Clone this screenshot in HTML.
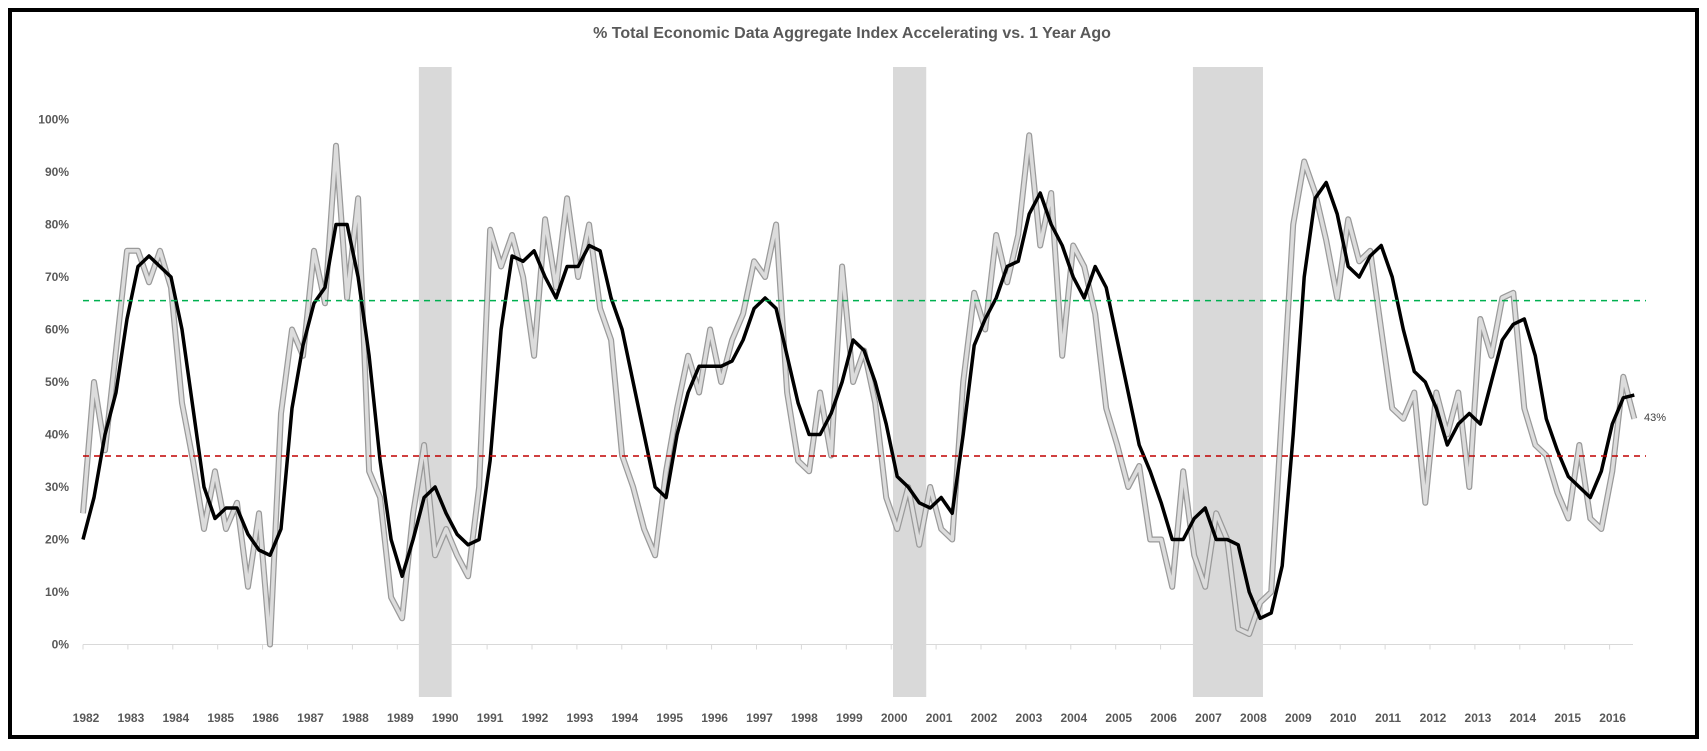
<!DOCTYPE html>
<html><head><meta charset="utf-8"><style>
body{margin:0;background:#fff;}
svg{display:block;font-family:"Liberation Sans",sans-serif;}
</style></head><body>
<svg id="chart" width="1707" height="751">
<rect x="10" y="10" width="1687" height="727" fill="#fff" stroke="#000" stroke-width="4"/>
<text x="852" y="38" text-anchor="middle" font-size="16" font-weight="bold" fill="#595959">% Total Economic Data Aggregate Index Accelerating vs. 1 Year Ago</text>
<g id="bands"></g><g id="axes"></g><g id="series"></g><g id="refs"></g>
<text x="1644" y="421" font-size="11" fill="#404040">43%</text>
</svg>
<script>
const yTicks=[0,10,20,30,40,50,60,70,80,90,100];
const years=[];for(let y=1982;y<=2016;y++)years.push(y);
const recessions=[[1989.48,1990.21],[2000.04,2000.78],[2006.72,2008.28]];
const greenLevel=65.5, redLevel=35.9;
const smoothed=[20,28,40,48,62,72,74,72,70,60,45,30,24,26,26,21,18,17,22,45,57,65,68,80,80,70,55,35,20,13,20,28,30,25,21,19,20,35,60,74,73,75,70,66,72,72,76,75,66,60,50,40,30,28,40,48,53,53,53,54,58,64,66,64,55,46,40,40,44,50,58,56,50,42,32,30,27,26,28,25,40,57,62,66,72,73,82,86,80,76,70,66,72,68,58,48,38,33,27,20,20,24,26,20,20,19,10,5,6,15,40,70,85,88,82,72,70,74,76,70,60,52,50,45,38,42,44,42,50,58,61,62,55,43,37,32,30,28,33,42,47,47.5];
const raw=[25,50,37,56,75,75,69,75,68,46,35,22,33,22,27,11,25,0,44,60,55,75,65,95,66,85,33,28,9,5,25,38,17,22,17,13,30,79,72,78,70,55,81,68,85,70,80,64,58,36,30,22,17,33,45,55,48,60,50,58,63,73,70,80,48,35,33,48,36,72,50,56,46,28,22,30,19,30,22,20,50,67,60,78,69,78,97,76,86,55,76,72,63,45,38,30,34,20,20,11,33,17,11,25,20,3,2,8,10,45,80,92,86,77,66,81,73,75,60,45,43,48,27,48,40,48,30,62,55,66,67,45,38,36,29,24,38,24,22,33,51,43];
const T0=1982,T1=2016.55;
const x=t=>83+(t-1982)*44.9;
const y=v=>644.5-v*5.25;
const NS='http://www.w3.org/2000/svg';
function mk(tag,attrs,parent){const e=document.createElementNS(NS,tag);for(const k in attrs)e.setAttribute(k,attrs[k]);parent.appendChild(e);return e;}
const bands=document.getElementById('bands'),axes=document.getElementById('axes'),series=document.getElementById('series'),refs=document.getElementById('refs');
recessions.forEach(r=>{const e=mk('rect',{x:x(r[0]),y:67,width:x(r[1])-x(r[0]),height:630,fill:'#d9d9d9'},bands);

});
yTicks.forEach(v=>{const e=mk('text',{x:69,y:y(v)+4,'text-anchor':'end','font-size':12,'font-weight':'bold',fill:'#595959'},axes);e.textContent=v+'%';

});
const ax=mk('line',{x1:83,y1:y(0),x2:1633,y2:y(0),stroke:'#d9d9d9','stroke-width':1},axes);


years.forEach(yr=>{const tk=mk('line',{x1:x(yr),y1:y(0),x2:x(yr),y2:y(0)+5,stroke:'#d9d9d9'},axes);


const e=mk('text',{x:x(yr)+3,y:722,'text-anchor':'middle','font-size':12,'font-weight':'bold',fill:'#595959'},axes);e.textContent=yr;

});
function pts(arr){const n=arr.length;return arr.map((v,i)=>x(T0+(T1-T0)*i/(n-1)).toFixed(1)+','+y(v).toFixed(1)).join(' ');}
const g1=mk('polyline',{points:pts(raw),fill:'none',stroke:'#9a9a9a','stroke-width':6,'stroke-linejoin':'round'},series);


const g2=mk('polyline',{points:pts(raw),fill:'none',stroke:'#dcdcdc','stroke-width':3.5,'stroke-linejoin':'round'},series);


const b=mk('polyline',{points:pts(smoothed),fill:'none',stroke:'#000','stroke-width':3.5,'stroke-linejoin':'round'},series);


const gl=mk('line',{x1:83,x2:1646,y1:y(greenLevel),y2:y(greenLevel),stroke:'#00b050','stroke-width':1.5,'stroke-dasharray':'6,5'},refs);


const rl=mk('line',{x1:83,x2:1646,y1:y(redLevel),y2:y(redLevel),stroke:'#c00000','stroke-width':1.5,'stroke-dasharray':'6,5'},refs);


</script>
</body></html>
